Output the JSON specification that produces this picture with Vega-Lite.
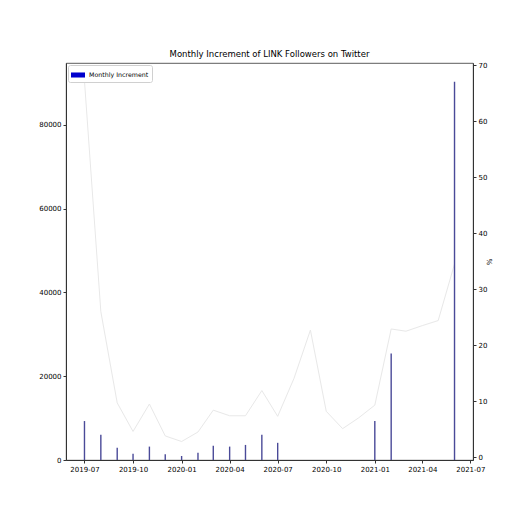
{
  "$schema": "https://vega.github.io/schema/vega-lite/v6.json",
  "autosize": "none",
  "width": 407,
  "height": 397,
  "padding": {"left": 66, "top": 63, "right": 53, "bottom": 66},
  "background": "white",
  "title": {
    "text": "Monthly Increment of LINK Followers on Twitter",
    "font": "DejaVu Sans",
    "fontSize": 8.5,
    "fontWeight": "normal",
    "color": "black",
    "offset": 3
  },
  "config": {
    "view": {"stroke": "#333333", "strokeWidth": 0.8},
    "axis": {
      "labelFont": "DejaVu Sans",
      "titleFont": "DejaVu Sans",
      "labelFontSize": 7,
      "labelColor": "black",
      "domainColor": "#333333",
      "tickColor": "#333333",
      "tickSize": 3,
      "labelPadding": 2,
      "grid": false
    },
    "legend": {"labelFont": "DejaVu Sans"}
  },
  "data": {
    "values": [
      {"month": "2019-07-01", "increment": 9300, "pct": 67.2},
      {"month": "2019-08-01", "increment": 6000, "pct": 26.0},
      {"month": "2019-09-01", "increment": 2950, "pct": 9.7},
      {"month": "2019-10-01", "increment": 1500, "pct": 4.6},
      {"month": "2019-11-01", "increment": 3200, "pct": 9.5},
      {"month": "2019-12-01", "increment": 1350, "pct": 3.8},
      {"month": "2020-01-01", "increment": 950, "pct": 2.8},
      {"month": "2020-02-01", "increment": 1750, "pct": 4.5},
      {"month": "2020-03-01", "increment": 3400, "pct": 8.4},
      {"month": "2020-04-01", "increment": 3200, "pct": 7.4},
      {"month": "2020-05-01", "increment": 3600, "pct": 7.4},
      {"month": "2020-06-01", "increment": 6000, "pct": 11.9},
      {"month": "2020-07-01", "increment": 4100, "pct": 7.3},
      {"month": "2020-08-01", "increment": null, "pct": 14.1},
      {"month": "2020-09-01", "increment": null, "pct": 22.7},
      {"month": "2020-10-01", "increment": null, "pct": 8.2},
      {"month": "2020-11-01", "increment": null, "pct": 5.1},
      {"month": "2020-12-01", "increment": null, "pct": 7.0},
      {"month": "2021-01-01", "increment": 9300, "pct": 9.3},
      {"month": "2021-02-01", "increment": 25400, "pct": 22.9},
      {"month": "2021-03-01", "increment": null, "pct": 22.5},
      {"month": "2021-04-01", "increment": null, "pct": 23.5},
      {"month": "2021-05-01", "increment": null, "pct": 24.4},
      {"month": "2021-06-01", "increment": 90300, "pct": 34.5}
    ]
  },
  "encoding": {
    "x": {
      "field": "month",
      "type": "temporal",
      "title": null,
      "scale": {
        "type": "utc",
        "padding": 0,
        "nice": false,
        "domain": [
          {"year": 2019, "month": 5, "date": 27, "utc": true},
          {"year": 2021, "month": 7, "date": 6, "utc": true}
        ]
      },
      "axis": {
        "labelExpr": "utcFormat(datum.value, '%Y-%m')",
        "values": [
          {"year": 2019, "month": 7, "date": 1, "utc": true},
          {"year": 2019, "month": 10, "date": 1, "utc": true},
          {"year": 2020, "month": 1, "date": 1, "utc": true},
          {"year": 2020, "month": 4, "date": 1, "utc": true},
          {"year": 2020, "month": 7, "date": 1, "utc": true},
          {"year": 2020, "month": 10, "date": 1, "utc": true},
          {"year": 2021, "month": 1, "date": 1, "utc": true},
          {"year": 2021, "month": 4, "date": 1, "utc": true},
          {"year": 2021, "month": 7, "date": 1, "utc": true}
        ],
        "labelAngle": 0,
        "labelFlush": false
      }
    }
  },
  "layer": [
    {
      "mark": {"type": "line", "color": "#e8e8e8", "strokeWidth": 1},
      "encoding": {
        "y": {
          "field": "pct",
          "type": "quantitative",
          "title": "%",
          "scale": {"domain": [-0.5, 70.4], "nice": false, "zero": false},
          "axis": {
            "orient": "right",
            "values": [0, 10, 20, 30, 40, 50, 60, 70],
            "titleFontSize": 7,
            "titleFontWeight": "normal",
            "titleAngle": 270,
            "titlePadding": 6
          }
        }
      }
    },
    {
      "layer": [
        {
          "mark": {"type": "bar", "size": 1.4, "color": "#4a4a98"},
          "encoding": {
            "y": {
              "field": "increment",
              "type": "quantitative",
              "title": null,
              "scale": {"domain": [0, 94780], "nice": false},
              "axis": {
                "orient": "left",
                "values": [0, 20000, 40000, 60000, 80000],
                "format": "d"
              }
            }
          }
        },
        {
          "transform": [{"filter": "false"}],
          "mark": {"type": "square"},
          "encoding": {
            "y": {"field": "increment", "type": "quantitative"},
            "color": {
              "datum": "Monthly Increment",
              "type": "nominal",
              "scale": {"range": ["#0000cd"]},
              "legend": {
                "title": null,
                "orient": "top-left",
                "offset": 2,
                "padding": 3,
                "fillColor": "white",
                "strokeColor": "#d0d0d0",
                "cornerRadius": 2,
                "labelFontSize": 6.3,
                "labelColor": "black",
                "symbolType": "M-1,-0.36H1V0.36H-1Z",
                "symbolSize": 196,
                "symbolStrokeWidth": 0,
                "symbolOpacity": 1
              }
            }
          }
        }
      ]
    }
  ],
  "resolve": {"scale": {"y": "independent"}}
}
